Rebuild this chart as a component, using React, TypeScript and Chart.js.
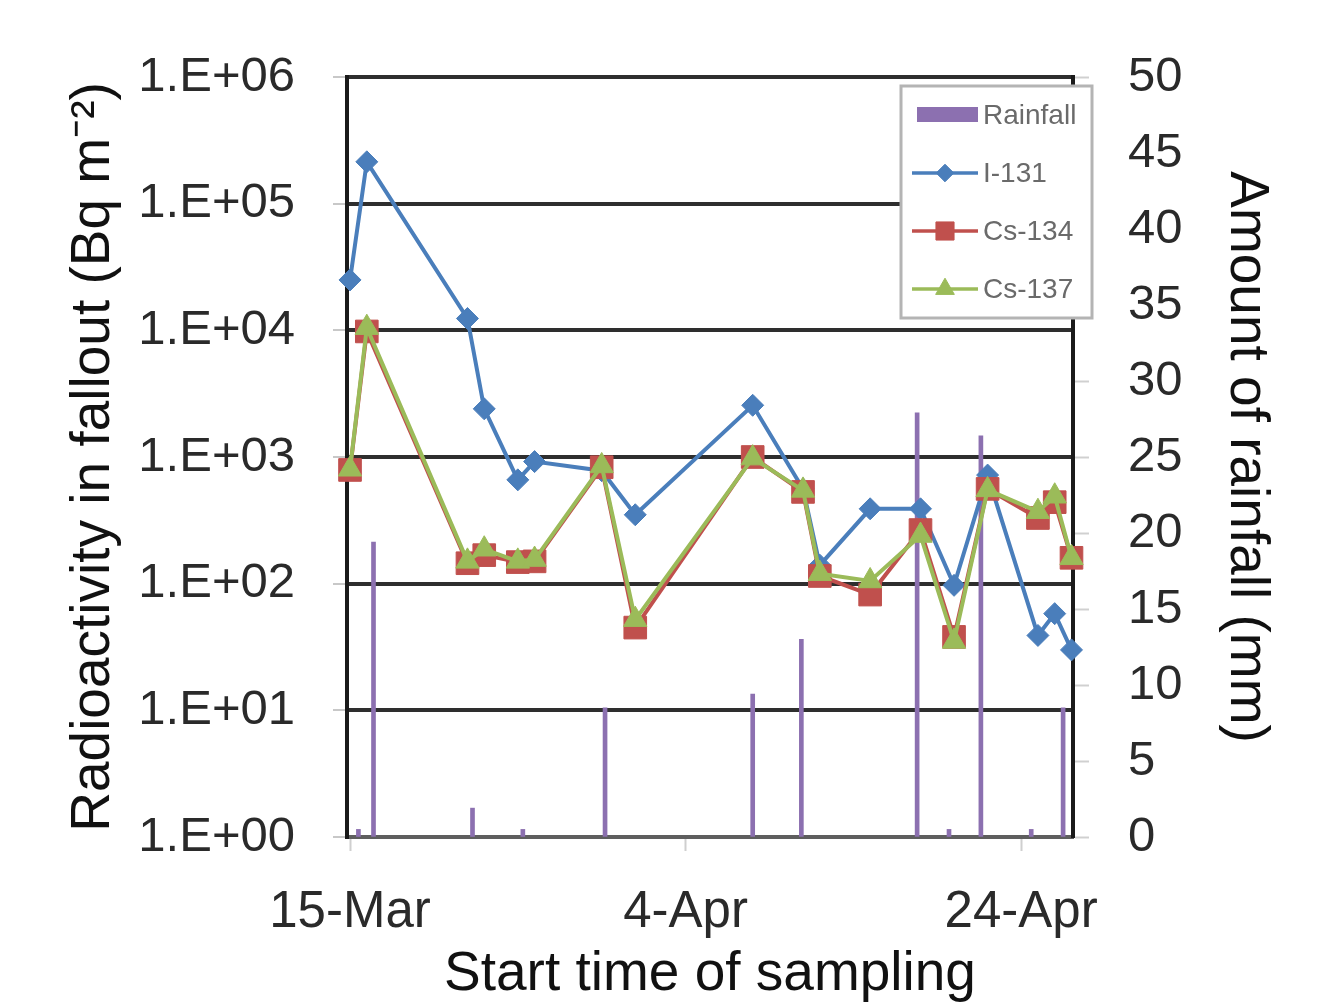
import React, { useEffect, useRef } from 'react';
import { Chart, registerables } from 'chart.js';

Chart.register(...registerables);

// ---- data ----
// x values are days after 15-Mar
const xTickDays = [0, 20, 40];
const xTickLabels = ['15-Mar', '4-Apr', '24-Apr'];
const yTickValues = [1, 10, 100, 1000, 10000, 100000, 1000000];
const yTickLabels = ['1.E+00', '1.E+01', '1.E+02', '1.E+03', '1.E+04', '1.E+05', '1.E+06'];

const sampleDays = [0, 1, 7, 8, 10, 11, 15, 17, 24, 27, 28, 31, 34, 36, 38, 41, 42, 43];
const i131 = [25000, 214000, 12400, 2400, 660, 920, 780, 350, 2560, 560, 140, 390, 390, 97, 720, 39, 58, 30];
const cs134 = [790, 9800, 145, 168, 148, 150, 830, 45, 1000, 530, 115, 82, 265, 38, 560, 330, 440, 160];
const cs137 = [800, 10500, 150, 187, 150, 155, 850, 52, 980, 545, 120, 105, 240, 35, 550, 370, 490, 160];

const rainDays = [0.5, 1.4, 7.3, 10.3, 15.2, 24.0, 26.9, 33.8, 35.7, 37.6, 40.6, 42.5];
const rainMm = [0.5, 19.4, 1.9, 0.5, 8.5, 9.4, 13.0, 27.9, 0.5, 26.4, 0.5, 8.5];

const FONT = "'Liberation Sans', Arial, sans-serif";

function drawMarker(ctx: CanvasRenderingContext2D, style: string, x: number, y: number, r: number) {
  ctx.beginPath();
  if (style === 'rectRot') {
    ctx.moveTo(x - r, y);
    ctx.lineTo(x, y - r);
    ctx.lineTo(x + r, y);
    ctx.lineTo(x, y + r);
    ctx.closePath();
  } else if (style === 'rect') {
    const s = Math.SQRT1_2 * r;
    ctx.rect(x - s, y - s, 2 * s, 2 * s);
  } else if (style === 'triangle') {
    for (let k = 0; k < 3; k++) {
      const a = (k * 2 * Math.PI) / 3;
      const px = x + Math.sin(a) * r;
      const py = y - Math.cos(a) * r;
      if (k === 0) ctx.moveTo(px, py);
      else ctx.lineTo(px, py);
    }
    ctx.closePath();
  }
  ctx.fill();
  ctx.stroke();
}

const boxLegend = {
  id: 'boxLegend',
  afterDraw(chart: any, _args: any, opts: any) {
    const ctx: CanvasRenderingContext2D = chart.ctx;
    const { left, top, width, height, firstRow, rowGap, sampleX0, sampleX1, textX } = opts;
    ctx.save();
    ctx.fillStyle = '#ffffff';
    ctx.fillRect(left, top, width, height);
    ctx.strokeStyle = '#b4b4b4';
    ctx.lineWidth = 3;
    ctx.strokeRect(left, top, width, height);
    chart.data.datasets.forEach((ds: any, i: number) => {
      const y = top + firstRow + i * rowGap;
      if (ds.type === 'bar') {
        ctx.fillStyle = ds.backgroundColor;
        ctx.fillRect(sampleX0 + 5, y - 8, sampleX1 - sampleX0 - 5, 15);
      } else {
        ctx.strokeStyle = ds.borderColor;
        ctx.lineWidth = ds.borderWidth - 0.5;
        ctx.beginPath();
        ctx.moveTo(sampleX0, y);
        ctx.lineTo(sampleX1, y);
        ctx.stroke();
        ctx.fillStyle = ds.pointBackgroundColor;
        ctx.strokeStyle = ds.pointBorderColor;
        ctx.lineWidth = 1;
        drawMarker(ctx, ds.pointStyle, (sampleX0 + sampleX1) / 2, y, ds.pointRadius * 0.8);
      }
      ctx.fillStyle = '#6a6a6a';
      ctx.font = `28px ${FONT}`;
      ctx.textBaseline = 'middle';
      ctx.textAlign = 'left';
      ctx.fillText(ds.label, textX, y + 1);
    });
    ctx.restore();
  },
};

export default function App() {
  const ref = useRef<HTMLCanvasElement | null>(null);

  useEffect(() => {
    if (!ref.current) return;
    const blue = '#4a7ebb';
    const red = '#c0504d';
    const green = '#9bbb59';
    const purple = '#8c70b0';

    const chart = new Chart(ref.current, {
      type: 'line',
      data: {
        datasets: [
          {
            type: 'bar',
            label: 'Rainfall',
            data: rainDays.map((d, i) => ({ x: d, y: rainMm[i] })),
            xAxisID: 'x',
            yAxisID: 'y1',
            backgroundColor: purple,
            borderWidth: 0,
            barThickness: 4,
            grouped: false,
            order: 4,
          } as any,
          {
            type: 'line',
            label: 'I-131',
            data: sampleDays.map((d, i) => ({ x: d, y: i131[i] })),
            yAxisID: 'y',
            borderColor: blue,
            backgroundColor: blue,
            borderWidth: 4,
            pointStyle: 'rectRot',
            pointRadius: 11,
            pointBorderWidth: 1,
            pointBackgroundColor: blue,
            pointBorderColor: blue,
            tension: 0,
            clip: false,
            order: 3,
          },
          {
            type: 'line',
            label: 'Cs-134',
            data: sampleDays.map((d, i) => ({ x: d, y: cs134[i] })),
            yAxisID: 'y',
            borderColor: red,
            backgroundColor: red,
            borderWidth: 4,
            pointStyle: 'rect',
            pointRadius: 16,
            pointBorderWidth: 1,
            pointBackgroundColor: red,
            pointBorderColor: red,
            tension: 0,
            clip: false,
            order: 2,
          },
          {
            type: 'line',
            label: 'Cs-137',
            data: sampleDays.map((d, i) => ({ x: d, y: cs137[i] })),
            yAxisID: 'y',
            borderColor: green,
            backgroundColor: green,
            borderWidth: 4,
            pointStyle: 'triangle',
            pointRadius: 13.5,
            pointBorderWidth: 1,
            pointBackgroundColor: green,
            pointBorderColor: green,
            tension: 0,
            clip: false,
            order: 1,
          },
        ],
      },
      options: {
        animation: false,
        responsive: true,
        maintainAspectRatio: false,
        layout: { padding: { top: 77, left: 0, right: 0, bottom: 0 } },
        plugins: {
          legend: { display: false },
          tooltip: { enabled: false },
          boxLegend: {
            left: 901,
            top: 86,
            width: 191,
            height: 232,
            firstRow: 29,
            rowGap: 58,
            sampleX0: 912,
            sampleX1: 978,
            textX: 983,
          },
        } as any,
        scales: {
          x: {
            type: 'linear',
            min: -0.18,
            max: 43.09,
            offset: false,
            afterBuildTicks: (s: any) => {
              s.ticks = xTickDays.map((v) => ({ value: v }));
            },
            afterFit: (s: any) => {
              s.height = 166;
            },
            ticks: {
              autoSkip: false,
              maxRotation: 0,
              minRotation: 0,
              padding: 36,
              color: '#2a2a2a',
              font: { family: FONT, size: 51, lineHeight: 1 },
              callback: (_v: any, i: number) => xTickLabels[i],
            },
            grid: {
              display: true,
              drawOnChartArea: false,
              drawTicks: true,
              tickLength: 14,
              tickColor: '#cfcfcf',
              tickWidth: 2,
              offset: false,
            },
            border: { display: true, color: '#5e5e5e', width: 4 },
            title: {
              display: true,
              text: 'Start time of sampling',
              color: '#111',
              font: { family: FONT, size: 55, lineHeight: 1 },
              padding: { top: 0, bottom: 1 },
            },
          },
          y: {
            type: 'logarithmic',
            position: 'left',
            min: 1,
            max: 1000000,
            afterBuildTicks: (s: any) => {
              s.ticks = yTickValues.map((v) => ({ value: v }));
            },
            afterFit: (s: any) => {
              s.width = 347;
            },
            ticks: {
              padding: 38,
              color: '#2a2a2a',
              font: { family: FONT, size: 49, lineHeight: 1 },
              callback: (_v: any, i: number) => yTickLabels[i],
            },
            grid: {
              color: '#2e2e2e',
              lineWidth: 4,
              drawTicks: true,
              tickLength: 14,
              tickColor: '#c8c8c8',
              tickWidth: 2,
            },
            border: { display: true, color: '#1a1a1a', width: 4 },
            title: {
              display: true,
              text: 'Radioactivity in fallout (Bq m\u207B\u00B2)',
              color: '#111',
              font: { family: FONT, size: 55, lineHeight: 1 },
              padding: { top: 66, bottom: 0 },
            },
          },
          y1: {
            type: 'linear',
            position: 'right',
            min: 0,
            max: 50,
            afterFit: (s: any) => {
              s.width = 263;
            },
            ticks: {
              stepSize: 5,
              padding: 39,
              color: '#2a2a2a',
              font: { family: FONT, size: 49, lineHeight: 1 },
            },
            grid: {
              drawOnChartArea: false,
              drawTicks: true,
              tickLength: 16,
              tickColor: '#d0d0d0',
              tickWidth: 2,
            },
            border: { display: true, color: '#1a1a1a', width: 4 },
            title: {
              display: true,
              text: 'Amount of rainfall (mm)',
              color: '#111',
              font: { family: FONT, size: 55, lineHeight: 1 },
              padding: { top: 62, bottom: 0 },
            },
          },
        },
      } as any,
      plugins: [boxLegend as any],
    });
    return () => chart.destroy();
  }, []);

  return (
    <div style={{ position: 'fixed', left: 0, top: 0, width: 1336, height: 1003, background: '#fff' }}>
      <canvas ref={ref} />
    </div>
  );
}
